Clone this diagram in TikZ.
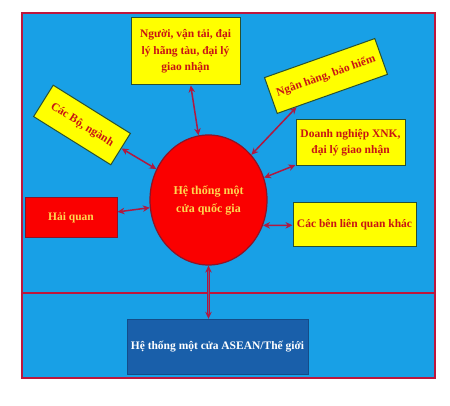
\documentclass[tikz,border=0pt]{standalone}
\usepackage{fontspec}
\setmainfont{Liberation Serif}
\usetikzlibrary{arrows.meta,shapes.geometric}
\definecolor{skyblue}{RGB}{24,160,230}
\definecolor{framered}{RGB}{190,22,60}
\definecolor{linkred}{RGB}{175,25,65}
\definecolor{boxyellow}{RGB}{255,255,0}
\definecolor{boxgreen}{RGB}{40,80,50}
\definecolor{textred}{RGB}{200,20,20}
\definecolor{hubred}{RGB}{250,0,0}
\definecolor{hubedge}{RGB}{140,20,40}
\definecolor{hubtext}{RGB}{255,215,80}
\definecolor{worldblue}{RGB}{25,95,170}
\tikzset{
  party/.style={draw=boxgreen, line width=1pt, fill=boxyellow, text=textred,
    font=\bfseries\fontsize{11.5}{16.5}\selectfont, align=center, inner sep=0pt},
  hub/.style={ellipse, draw=hubedge, line width=1.2pt, fill=hubred, text=hubtext,
    font=\bfseries\fontsize{12}{18}\selectfont, align=center,
    minimum width=117pt, minimum height=130pt, inner sep=0pt},
  link/.style={draw=linkred, line width=1.5pt, {Stealth[length=7pt,width=6.5pt]}-{Stealth[length=7pt,width=6.5pt]}}
}
\begin{document}
\begin{tikzpicture}[x=1pt, y=1pt]
    \useasboundingbox (0,0) rectangle (450,406);
    \fill[white] (0,0) rectangle (450,406);
    % frame
    \draw[framered, line width=1.5pt, fill=skyblue] (22,28) rectangle (435,393);
    \draw[framered, line width=1.5pt] (22,113) -- (435,113);

    \node[hub] (sys) at (208.5,206) {Hệ thống một\\cửa quốc gia};

    \node[party, minimum width=109pt, minimum height=67pt] (carrier) at (185.5,354.5)
        {Người, vận tải, đại\\lý hãng tàu, đại lý\\giao nhận};
    \node[party, minimum width=117pt, minimum height=38pt, rotate=19.5] (bank) at (326,330)
        {Ngân hàng, bảo hiểm};
    \node[party, minimum width=91pt, minimum height=37pt, rotate=-32] (minis) at (82,281)
        {Các Bộ, ngành};
    \node[party, minimum width=109pt, minimum height=46pt, font=\bfseries\fontsize{11.5}{16}\selectfont] (trader) at (350.5,263)
        {Doanh nghiệp XNK,\\đại lý giao nhận};
    \node[party, minimum width=123pt, minimum height=44pt] (others) at (354.5,181)
        {Các bên liên quan khác};
    \node[party, draw=hubedge, fill=hubred, text=hubtext, minimum width=92pt, minimum height=40pt] (customs) at (71,188)
        {Hải quan};
    \node[draw=worldblue!80!black, fill=worldblue, text=white, font=\bfseries\fontsize{11.5}{14}\selectfont,
        minimum width=181pt, minimum height=55pt, inner sep=0pt] (world) at (217.5,59.5)
        {Hệ thống một cửa ASEAN/Thế giới};

    \draw[link] (sys) -- (carrier);
    \draw[link] (sys) -- (bank);
    \draw[link] (sys) -- (minis);
    \draw[link] (sys) -- (trader);
    \draw[link] (sys.-25) -- (others);
    \draw[link] (sys) -- (customs);
    \draw[link, double=skyblue!50!linkred, double distance=1.8pt, line width=1pt] (sys.south) -- (sys.south |- world.north);
  \end{tikzpicture}
\end{document}
